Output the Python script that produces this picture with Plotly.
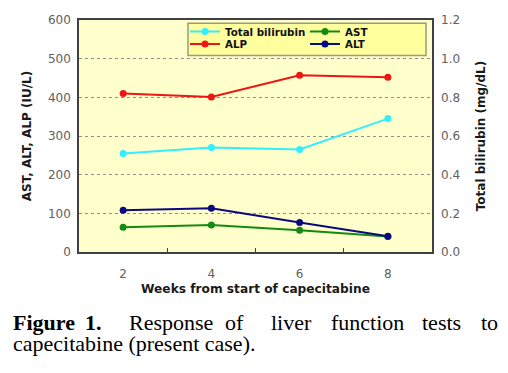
import plotly.graph_objects as go

weeks = ["2", "4", "6", "8"]
total_bilirubin = [0.51, 0.54, 0.53, 0.69]
alp = [410, 401, 457, 452]
ast = [64, 70, 56, 40]
alt = [108, 113, 76, 41]

left_ticks = [0, 100, 200, 300, 400, 500, 600]
right_ticks = [0.0, 0.2, 0.4, 0.6, 0.8, 1.0, 1.2]

# page body has an 8px margin; figure sized to fit the 508x373 window
OFF = 8
W, H = 508 - 2 * OFF, 373 - 2 * OFF
# plot-area edges in window pixels
SL, SR, ST, SB = 79, 432, 19.5, 252
L, R, T, B = SL - OFF, SR - OFF, ST - OFF, SB - OFF


def pxx(p):
    return (p - OFF - L) / (R - L)


def pxy(p):
    return (B - (p - OFF)) / (B - T)


fig = go.Figure()

series = [
    ("Total bilirubin", total_bilirubin, "#33EEFF", "y2", "legend"),
    ("AST", ast, "#138A13", "y", "legend2"),
    ("ALP", alp, "#EE1515", "y", "legend3"),
    ("ALT", alt, "#0A0A80", "y", "legend4"),
]
for name, vals, col, yax, leg in series:
    fig.add_trace(go.Scatter(
        x=weeks, y=vals, name=name, yaxis=yax, legend=leg,
        mode="lines+markers",
        line=dict(color=col, width=2),
        marker=dict(color=col, size=7, symbol="circle"),
    ))

legfont = dict(family="DejaVu Sans", size=10.3, color="#111111", weight="bold")


def leg(xp, yp):
    return dict(x=pxx(xp), y=pxy(yp), xanchor="left", yanchor="middle",
                bgcolor="rgba(0,0,0,0)", borderwidth=0, font=legfont,
                itemclick=False)


fig.update_layout(
    width=W, height=H,
    margin=dict(l=L, r=W - R, t=T, b=H - B, autoexpand=False),
    paper_bgcolor="white",
    plot_bgcolor="#FFFFCC",
    showlegend=True,
    legend=leg(185, 31),
    legend2=leg(305, 31),
    legend3=leg(185, 43.5),
    legend4=leg(305, 43.5),
    xaxis=dict(
        type="category", range=[-0.5, 3.5], automargin=False,
        tickson="boundaries", ticks="inside", ticklen=4, tickcolor="#404040",
        showline=True, linecolor="#404040", linewidth=1.5, mirror=True,
        showgrid=False,
        tickfont=dict(family="DejaVu Sans", size=12, color="#606060"),
        ticklabelstandoff=10,
        title=dict(text="Weeks from start of capecitabine", standoff=4,
                   font=dict(family="DejaVu Sans", size=12.2, color="#1a1a1a", weight="bold")),
    ),
    yaxis=dict(
        range=[0, 600], tickvals=left_ticks, automargin=False,
        showline=True, linecolor="#404040", linewidth=1.5, mirror=True,
        showgrid=True, gridcolor="#909090", gridwidth=1, griddash="dot",
        zeroline=False, ticks="",
        tickfont=dict(family="DejaVu Sans", size=12, color="#606060"),
        ticklabelstandoff=4,
        title=dict(text="AST, ALT, ALP (IU/L)", standoff=14,
                   font=dict(family="DejaVu Sans", size=12, color="#1a1a1a", weight="bold")),
    ),
    yaxis2=dict(
        range=[0, 1.2], tickvals=right_ticks, tickformat=".1f", automargin=False,
        overlaying="y", side="right", showgrid=False, zeroline=False, ticks="",
        tickfont=dict(family="DejaVu Sans", size=12, color="#606060"),
        ticklabelstandoff=8,
        title=dict(text="Total bilirubin (mg/dL)", standoff=17,
                   font=dict(family="DejaVu Sans", size=12, color="#1a1a1a", weight="bold")),
    ),
)

# legend box background
fig.add_shape(type="rect", xref="paper", yref="paper",
              x0=pxx(188), x1=pxx(426), y0=pxy(55), y1=pxy(22.7),
              fillcolor="#FFFF9E", line=dict(color="#9A9A80", width=1.5),
              layer="below")

# caption
cap_font = dict(family="Liberation Serif", size=22, color="#000000")
line1 = [("<b>Figure</b>", 12), ("<b>1.</b>", 84), ("Response", 128), ("of", 224),
         ("liver", 270), ("function", 330), ("tests", 421), ("to", 480)]
for txt, xp in line1:
    fig.add_annotation(text=txt, xref="paper", yref="paper", x=pxx(xp), y=pxy(322.2),
                       xanchor="left", yanchor="middle", showarrow=False, font=cap_font,
                       borderpad=0)
fig.add_annotation(text="capecitabine (present case).", xref="paper", yref="paper",
                   x=pxx(12), y=pxy(343.5), xanchor="left", yanchor="middle",
                   showarrow=False, font=cap_font, borderpad=0)

fig.write_html("out.html")
